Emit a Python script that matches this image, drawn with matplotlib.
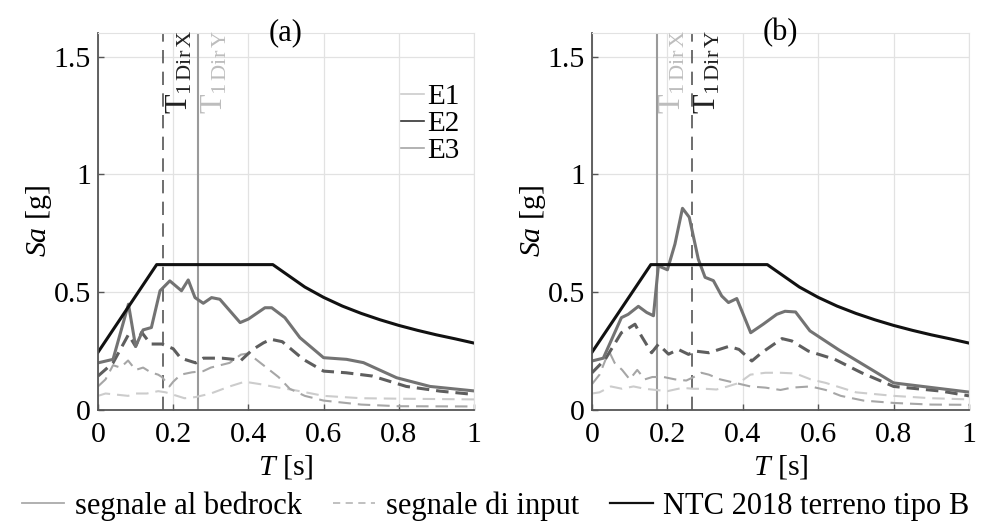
import numpy as np
import matplotlib
matplotlib.use("Agg")
import matplotlib.pyplot as plt
from matplotlib.lines import Line2D

plt.rcParams['font.family'] = ['Liberation Serif', 'DejaVu Serif']
plt.rcParams['mathtext.fontset'] = 'custom'
plt.rcParams['mathtext.rm'] = 'Liberation Serif'
plt.rcParams['mathtext.it'] = 'Liberation Serif:italic'

# spettro NTC 2018, terreno tipo B
T_ntc = [0, 0.156, 0.465, 0.55, 0.6, 0.65, 0.7, 0.75, 0.8, 0.85, 0.9, 0.95, 1.0]
Sa_ntc = [0.245, 0.617, 0.617, 0.522, 0.478, 0.441, 0.41, 0.383, 0.359, 0.338, 0.319, 0.302, 0.284]

# (a) segnale al bedrock
T_a_bed = [0, 0.04, 0.081, 0.1, 0.12, 0.142, 0.165, 0.191, 0.222, 0.24, 0.258, 0.28, 0.302,
           0.324, 0.378, 0.40, 0.444, 0.462, 0.497, 0.537, 0.60, 0.661, 0.706, 0.794, 0.883, 1.0]
Sa_a_bed = [0.20, 0.215, 0.449, 0.27, 0.34, 0.35, 0.506, 0.548, 0.506, 0.552, 0.477, 0.453, 0.477,
            0.47, 0.371, 0.386, 0.434, 0.434, 0.392, 0.307, 0.222, 0.215, 0.201, 0.137, 0.10, 0.081]
# (a) segnali di input
T_a_E2 = [0, 0.04, 0.081, 0.1, 0.116, 0.14, 0.17, 0.2, 0.22, 0.26, 0.28, 0.33, 0.36, 0.38,
          0.41, 0.44, 0.46, 0.49, 0.546, 0.60, 0.66, 0.73, 0.82, 0.91, 1.0]
Sa_a_E2 = [0.144, 0.2, 0.32, 0.27, 0.33, 0.28, 0.28, 0.26, 0.22, 0.20, 0.22, 0.22, 0.215, 0.21,
           0.255, 0.285, 0.30, 0.29, 0.215, 0.165, 0.158, 0.144, 0.10, 0.08, 0.066]
T_a_E3 = [0, 0.02, 0.04, 0.06, 0.08, 0.1, 0.12, 0.14, 0.16, 0.17, 0.19, 0.2, 0.22, 0.25, 0.28,
          0.3, 0.35, 0.38, 0.40, 0.44, 0.48, 0.51, 0.55, 0.6, 0.7, 0.8, 1.0]
Sa_a_E3 = [0.10, 0.13, 0.19, 0.18, 0.21, 0.17, 0.18, 0.16, 0.15, 0.14, 0.10, 0.12, 0.15, 0.16,
           0.165, 0.18, 0.20, 0.235, 0.24, 0.19, 0.14, 0.09, 0.06, 0.04, 0.023, 0.016, 0.015]
T_a_E1 = [0, 0.02, 0.05, 0.08, 0.1, 0.13, 0.16, 0.18, 0.2, 0.23, 0.26, 0.3, 0.35, 0.39, 0.43,
          0.48, 0.52, 0.6, 0.7, 0.8, 1.0]
Sa_a_E1 = [0.06, 0.07, 0.065, 0.06, 0.07, 0.07, 0.08, 0.075, 0.065, 0.05, 0.055, 0.07, 0.10,
           0.12, 0.11, 0.095, 0.085, 0.06, 0.05, 0.048, 0.045]

# (b) segnale al bedrock
T_b_bed = [0, 0.03, 0.078, 0.096, 0.123, 0.145, 0.163, 0.176, 0.2, 0.22, 0.24, 0.258, 0.282,
           0.3, 0.322, 0.344, 0.362, 0.384, 0.421, 0.454, 0.49, 0.512, 0.54, 0.578, 0.653, 0.8, 1.0]
Sa_b_bed = [0.208, 0.22, 0.392, 0.406, 0.44, 0.414, 0.40, 0.612, 0.595, 0.704, 0.856, 0.818,
            0.64, 0.563, 0.549, 0.484, 0.456, 0.473, 0.328, 0.364, 0.406, 0.419, 0.416, 0.336,
            0.257, 0.115, 0.076]
# (b) segnali di input
T_b_E2 = [0, 0.035, 0.078, 0.114, 0.131, 0.158, 0.176, 0.203, 0.229, 0.256, 0.274, 0.31, 0.363,
          0.39, 0.424, 0.45, 0.504, 0.53, 0.574, 0.644, 0.715, 0.8, 0.927, 1.0]
Sa_b_E2 = [0.158, 0.215, 0.328, 0.364, 0.314, 0.243, 0.279, 0.237, 0.257, 0.236, 0.25, 0.243,
           0.27, 0.257, 0.208, 0.243, 0.303, 0.293, 0.25, 0.215, 0.158, 0.10, 0.08, 0.06]
T_b_E3 = [0, 0.02, 0.045, 0.06, 0.08, 0.1, 0.12, 0.14, 0.16, 0.19, 0.22, 0.25, 0.27, 0.29, 0.31,
          0.34, 0.38, 0.42, 0.46, 0.5, 0.53, 0.58, 0.62, 0.66, 0.72, 0.8, 0.9, 1.0]
Sa_b_E3 = [0.11, 0.15, 0.25, 0.20, 0.17, 0.13, 0.17, 0.13, 0.14, 0.14, 0.13, 0.125, 0.14, 0.158,
           0.15, 0.13, 0.115, 0.10, 0.095, 0.085, 0.095, 0.10, 0.085, 0.06, 0.04, 0.03, 0.023, 0.022]
T_b_E1 = [0, 0.02, 0.05, 0.08, 0.11, 0.14, 0.17, 0.2, 0.24, 0.27, 0.3, 0.33, 0.36, 0.39, 0.42,
          0.46, 0.5, 0.54, 0.58, 0.62, 0.7, 0.8, 0.9, 1.0]
Sa_b_E1 = [0.07, 0.075, 0.10, 0.09, 0.10, 0.09, 0.085, 0.08, 0.094, 0.09, 0.09, 0.087, 0.1,
           0.115, 0.15, 0.158, 0.158, 0.155, 0.13, 0.115, 0.075, 0.06, 0.05, 0.045]

# periodi fondamentali
T1_a = {'X': 0.174, 'Y': 0.267}
T1_b = {'X': 0.172, 'Y': 0.264}

c_E1, c_E2, c_E3 = '#cccccc', '#5e5e5e', '#a6a6a6'
c_bed = '#737373'


def pannello(ax, T_bed, Sa_bed, inputs, T1, dashed_dir, title):
    ax.set_xlim(0, 1)
    ax.set_ylim(0, 1.6)
    ax.set_xticks([0, 0.2, 0.4, 0.6, 0.8, 1])
    ax.set_xticklabels(['0', '0.2', '0.4', '0.6', '0.8', '1'])
    ax.set_yticks([0, 0.5, 1, 1.5])
    ax.set_yticklabels(['0', '0.5', '1', '1.5'])
    ax.grid(True, color='#e2e2e2', lw=0.9)
    ax.set_axisbelow(True)
    ax.tick_params(direction='in', length=4, width=1, color='#555555', labelsize=21.5)
    ax.tick_params(axis='x', pad=9)
    ax.tick_params(axis='y', pad=5)
    for s in ['left', 'bottom']:
        ax.spines[s].set_color('#555555')
        ax.spines[s].set_linewidth(1.3)
    for s in ['top', 'right']:
        ax.spines[s].set_color('#e2e2e2')

    # periodi
    for d in ['X', 'Y']:
        if d == dashed_dir:
            ax.axvline(T1[d], color='#555555', lw=1.2, dashes=(8, 5))
            tc = '#222222'
        else:
            ax.axvline(T1[d], color='#9a9a9a', lw=1.5)
            tc = '#bdbdbd'
        ax.text(T1[d] + 0.003, 1.255, r'$\mathrm{T}_{\mathrm{1\,Dir\,' + d + '}}$',
                rotation=90, ha='left', va='bottom', fontsize=23, color=tc)

    for (T, Sa, c, lw) in inputs:
        ax.plot(T, Sa, color=c, lw=lw, dashes=(9 / lw, 5 / lw))
    ax.plot(T_bed, Sa_bed, color=c_bed, lw=2.2)
    ax.plot(T_ntc, Sa_ntc, color='#111111', lw=2.2)

    ax.set_xlabel(r'$T$ [s]', fontsize=21.5, labelpad=3)
    ax.set_ylabel(r'$Sa$ [g]', fontsize=21.5, labelpad=0)
    ax.text(0.5, 1.0, title, transform=ax.transAxes, ha='center', va='center', fontsize=22)


fig = plt.figure(figsize=(9.91, 5.27), dpi=100)
ax1 = fig.add_axes([98 / 991, 1 - 410 / 527, 376 / 991, 377 / 527])
ax2 = fig.add_axes([592 / 991, 1 - 410 / 527, 377 / 991, 377 / 527])

pannello(ax1, T_a_bed, Sa_a_bed,
         [(T_a_E1, Sa_a_E1, c_E1, 1.5), (T_a_E3, Sa_a_E3, c_E3, 1.5), (T_a_E2, Sa_a_E2, c_E2, 2.2)],
         T1_a, 'X', '(a)')
pannello(ax2, T_b_bed, Sa_b_bed,
         [(T_b_E1, Sa_b_E1, c_E1, 1.5), (T_b_E3, Sa_b_E3, c_E3, 1.5), (T_b_E2, Sa_b_E2, c_E2, 2.2)],
         T1_b, 'Y', '(b)')

# legenda terremoti
h_E = [Line2D([], [], color=c_E1, lw=1.2), Line2D([], [], color='#333333', lw=1.2),
       Line2D([], [], color=c_E3, lw=1.2)]
ax1.legend(h_E, ['E1', 'E2', 'E3'], loc='upper right', bbox_to_anchor=(1.0, 0.905),
           frameon=False, fontsize=21, handlelength=0.8, handletextpad=0.1,
           labelspacing=0.02, borderaxespad=0.1)

# legenda generale
h_L = [Line2D([], [], color='#aaaaaa', lw=1.3),
       Line2D([], [], color='#bbbbbb', lw=1.3, dashes=(4, 3)),
       Line2D([], [], color='#111111', lw=1.6)]
fig.legend(h_L, ['segnale al bedrock', 'segnale di input', 'NTC 2018 terreno tipo B'],
           loc='lower center', bbox_to_anchor=(0.5, -0.04), ncol=3, frameon=False,
           fontsize=22, handlelength=1.4, handletextpad=0.35, columnspacing=1.0)

fig.savefig('out.png', dpi=100)
